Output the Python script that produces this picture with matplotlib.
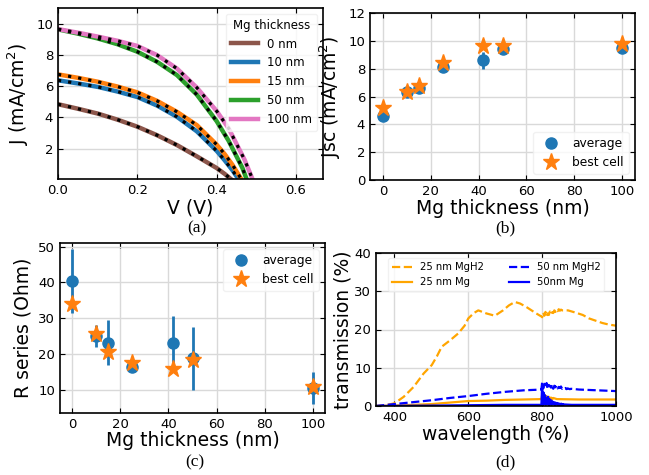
import numpy as np
import matplotlib
matplotlib.use("Agg")
import matplotlib.pyplot as plt

plt.rcParams["font.family"] = ["DejaVu Sans"]
plt.rcParams["xtick.direction"] = "in"
plt.rcParams["ytick.direction"] = "in"
plt.rcParams["xtick.top"] = True
plt.rcParams["ytick.right"] = True
plt.rcParams["xtick.labelsize"] = 9.5
plt.rcParams["ytick.labelsize"] = 9.5
plt.rcParams["axes.labelsize"] = 13.5
plt.rcParams["axes.linewidth"] = 1.2
plt.rcParams["grid.color"] = "#d9d9d9"
plt.rcParams["grid.linewidth"] = 1.0

# ---- (a) J-V curves
labels_a = ["0 nm", "10 nm", "15 nm", "50 nm", "100 nm"]
colors_a = ["tab:brown", "tab:blue", "tab:orange", "tab:green", "tab:pink"]
v_0 = [0, 0.05, 0.1, 0.15, 0.2, 0.25, 0.3, 0.35, 0.4, 0.42, 0.438]
j_0 = [4.84, 4.55, 4.24, 3.85, 3.4, 2.85, 2.22, 1.5, 0.75, 0.38, 0.0]
v_10 = [0, 0.05, 0.1, 0.15, 0.2, 0.25, 0.3, 0.35, 0.4, 0.42, 0.44, 0.456]
j_10 = [6.37, 6.17, 5.95, 5.65, 5.3, 4.75, 4.03, 3.1, 1.85, 1.25, 0.6, 0.0]
v_15 = [0, 0.05, 0.1, 0.15, 0.2, 0.25, 0.3, 0.35, 0.4, 0.42, 0.44, 0.463]
j_15 = [6.75, 6.53, 6.28, 5.97, 5.6, 5.05, 4.35, 3.5, 2.25, 1.65, 0.95, 0.0]
v_50 = [0, 0.05, 0.1, 0.15, 0.2, 0.25, 0.3, 0.35, 0.4, 0.43, 0.45, 0.465, 0.476]
j_50 = [9.63, 9.36, 9.05, 8.68, 8.2, 7.55, 6.7, 5.45, 3.75, 2.5, 1.5, 0.75, 0.0]
v_100 = [0, 0.05, 0.1, 0.15, 0.2, 0.25, 0.3, 0.35, 0.4, 0.43, 0.45, 0.47, 0.491]
j_100 = [9.65, 9.42, 9.17, 8.9, 8.57, 7.98, 7.12, 5.9, 4.4, 3.3, 2.3, 1.3, 0.0]
v_all = [v_0, v_10, v_15, v_50, v_100]
j_all = [j_0, j_10, j_15, j_50, j_100]

# ---- (b), (c) vs Mg thickness
thick = [0, 10, 15, 25, 42, 50, 100]
jsc_avg = [4.6, 6.3, 6.6, 8.1, 8.6, 9.4, 9.5]
jsc_err = [0.2, 0.2, 0.3, 0.2, 0.6, 0.3, 0.2]
jsc_best = [5.2, 6.35, 6.75, 8.4, 9.65, 9.65, 9.75]
rs_avg = [40.4, 25.0, 23.2, 16.5, 23.0, 18.8, 10.5]
rs_err = [9.0, 3.0, 6.3, 1.0, 7.7, 8.7, 4.5]
rs_best = [34.0, 25.5, 20.5, 17.5, 16.0, 18.5, 10.8]

# ---- (d) transmission spectra
wl_h25_a = [350, 375, 400, 425, 452, 479, 501, 515, 528, 551, 573, 590, 600, 615,
            627, 649, 672, 694, 710, 726, 740, 757, 784, 798]
t_h25_a = [0, 0.2, 0.7, 2.4, 5.0, 8.5, 10.7, 13.0, 15.5, 17.2, 19.0, 21.0, 22.9, 24.3,
           25.0, 24.2, 23.6, 25.0, 26.3, 27.2, 26.8, 25.9, 24.2, 23.4]
wl_h25_b = list(range(800, 855, 3))
t_h25_b = [23.2, 24.4, 23.6, 24.6, 23.5, 24.2, 23.8, 24.7, 24.0, 24.5, 24.3, 25.0,
           24.6, 25.2, 24.8, 25.3, 24.9, 25.2, 25.0]
wl_h25_c = [856, 870, 891, 910, 927, 945, 963, 980, 1000]
t_h25_c = [25.0, 25.0, 24.4, 23.8, 22.9, 22.3, 21.7, 21.3, 21.0]

wl_m25_a = [350, 400, 450, 500, 550, 600, 650, 700, 750, 798]
t_m25_a = [0, 0.1, 0.3, 0.5, 0.9, 1.3, 1.4, 1.6, 1.7, 1.8]
wl_m25_b = list(range(800, 831, 3))
t_m25_b = [2.8, 1.5, 3.0, 1.8, 2.6, 1.6, 2.4, 1.9, 2.2, 1.7, 2.1]
wl_m25_c = [840, 900, 1000]
t_m25_c = [1.8, 1.7, 1.7]

wl_h50_a = [350, 400, 450, 500, 550, 600, 650, 700, 750, 798]
t_h50_a = [0, 0.5, 1.0, 1.5, 2.1, 2.6, 3.2, 3.7, 4.1, 4.3]
wl_h50_b = list(range(800, 879, 3))
t_h50_b = [6.2, 4.6, 5.8, 5.0, 6.0, 4.4, 5.5, 5.2, 4.8, 5.6, 4.5, 5.3, 4.9, 5.4,
           4.6, 5.0, 4.7, 5.1, 4.5, 4.8, 4.6, 4.7, 4.4, 4.6, 4.5, 4.4, 4.5]
wl_h50_c = [900, 950, 1000]
t_h50_c = [4.3, 4.1, 3.9]

wl_m50_a = [350, 500, 600, 700, 798]
t_m50_a = [0, 0.1, 0.2, 0.3, 0.3]
wl_m50_b = list(range(800, 861, 2))
t_m50_b = [5.5, 0.2, 3.5, 0.5, 2.8, 0.3, 2.0, 0.6, 2.4, 0.2, 1.8, 0.4, 1.5, 0.3, 1.2,
           0.5, 1.0, 0.2, 0.9, 0.4, 0.8, 0.3, 0.7, 0.2, 0.6, 0.3, 0.6, 0.2, 0.5, 0.3, 0.4]
wl_m50_c = [880, 950, 1000]
t_m50_c = [0.3, 0.3, 0.3]

W, H = 649, 475
fig = plt.figure(figsize=(W / 100, H / 100), dpi=100)


def box(l, t, r, b):
    return fig.add_axes([l / W, 1 - b / H, (r - l) / W, (b - t) / H])


def scatter_panel(ax, avg, err, best):
    ax.errorbar(thick, avg, yerr=err, fmt="none", ecolor="tab:blue", elinewidth=2)
    h1, = ax.plot(thick, avg, "o", color="tab:blue", ms=8, label="average")
    h2, = ax.plot(thick, best, "*", color="tab:orange", ms=12.5, label="best cell")
    return [h1, h2]


# (a)
ax = box(58, 8, 323, 179)
ax.grid(True)
for v, j, c, lab in zip(v_all, j_all, colors_a, labels_a):
    ax.plot(v, j, color=c, lw=3.2, label=lab)
for v, j in zip(v_all, j_all):
    ax.plot(v, j, color="black", lw=2.3, ls=(0, (1, 2.2)))
ax.set_xlim(0, 0.668)
ax.set_ylim(0.05, 11)
ax.set_xticks([0.0, 0.2, 0.4, 0.6])
ax.set_yticks([2, 4, 6, 8, 10])
ax.set_xlabel("V (V)", labelpad=1)
ax.set_ylabel("J (mA/cm$^2$)")
ax.legend(title="Mg thickness", loc="upper right", fontsize=8.5, title_fontsize=8.5,
          handlelength=2.3, framealpha=0.8, edgecolor="#eeeeee")

# (b)
ax = box(370, 13, 635, 180)
ax.grid(True)
hs = scatter_panel(ax, jsc_avg, jsc_err, jsc_best)
ax.set_xlim(-5.5, 105.5)
ax.set_ylim(0, 12)
ax.set_yticks([0, 2, 4, 6, 8, 10, 12])
ax.set_xlabel("Mg thickness (nm)", labelpad=1)
ax.set_ylabel("Jsc (mA/cm$^2$)")
ax.legend(handles=hs, loc="lower right", fontsize=8.8, framealpha=0.8, edgecolor="#eeeeee")

# (c)
ax = box(60, 243, 325, 413)
ax.grid(True)
hs = scatter_panel(ax, rs_avg, rs_err, rs_best)
ax.set_xlim(-5, 105)
ax.set_ylim(3.6, 51)
ax.set_yticks([10, 20, 30, 40, 50])
ax.set_xlabel("Mg thickness (nm)", labelpad=0)
ax.set_ylabel("R series (Ohm)")
ax.legend(handles=hs, loc="upper right", fontsize=8.8, framealpha=0.8, edgecolor="#eeeeee")

# (d)
ax = box(376, 253, 616, 406)
ax.grid(True)
ax.plot(wl_h25_a + wl_h25_b + wl_h25_c, t_h25_a + t_h25_b + t_h25_c,
        color="orange", ls="--", lw=1.6, label="25 nm MgH2")
ax.plot(wl_m25_a + wl_m25_b + wl_m25_c, t_m25_a + t_m25_b + t_m25_c,
        color="orange", lw=1.6, label="25 nm Mg")
ax.plot(wl_h50_a + wl_h50_b + wl_h50_c, t_h50_a + t_h50_b + t_h50_c,
        color="blue", ls="--", lw=1.6, label="50 nm MgH2")
ax.plot(wl_m50_a + wl_m50_b + wl_m50_c, t_m50_a + t_m50_b + t_m50_c,
        color="blue", lw=1.6, label="50nm Mg")
ax.set_xlim(350, 1000)
ax.set_ylim(0, 40)
ax.set_xticks([400, 600, 800, 1000])
ax.set_yticks([0, 10, 20, 30, 40])
ax.set_xlabel("wavelength (%)", labelpad=1)
ax.set_ylabel("transmission (%)", labelpad=1)
ax.legend(loc="upper center", ncol=2, fontsize=7.2, framealpha=0.8,
          edgecolor="#eeeeee", columnspacing=2.5)

for txt, x, y in [("(a)", 197, 228), ("(b)", 505, 228), ("(c)", 195, 462), ("(d)", 505, 462)]:
    fig.text(x / W, 1 - y / H, txt, ha="center", va="center", fontsize=12.5,
             family="Liberation Serif")

fig.savefig("out.png", dpi=100)
